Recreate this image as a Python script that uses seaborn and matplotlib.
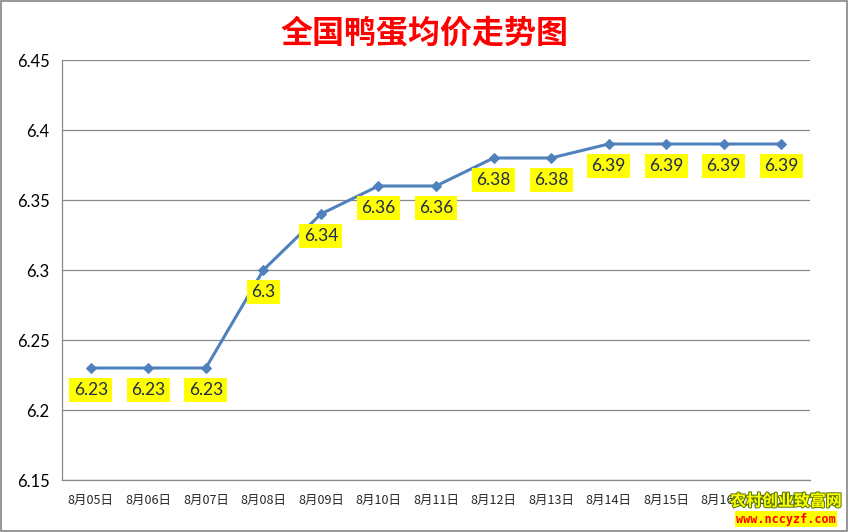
import matplotlib.pyplot as plt
import matplotlib.patheffects as pe
import numpy as np
import pandas as pd
import seaborn as sns
from matplotlib.patches import Rectangle

# data
dates = ['8月05日', '8月06日', '8月07日', '8月08日', '8月09日', '8月10日', '8月11日',
         '8月12日', '8月13日', '8月14日', '8月15日', '8月16日', '8月17日']
prices = [6.23, 6.23, 6.23, 6.30, 6.34, 6.36, 6.36, 6.38, 6.38, 6.39, 6.39, 6.39, 6.39]
price_labels = ['6.23', '6.23', '6.23', '6.3', '6.34', '6.36', '6.36',
                '6.38', '6.38', '6.39', '6.39', '6.39', '6.39']
y_ticks = [6.15, 6.2, 6.25, 6.3, 6.35, 6.4, 6.45]
y_tick_labels = ['6.15', '6.2', '6.25', '6.3', '6.35', '6.4', '6.45']

df = pd.DataFrame({'date': dates, 'price': prices})

sns.set_style('white')
plt.rcParams['font.family'] = ['Noto Sans CJK SC', 'DejaVu Sans']

fig = plt.figure(figsize=(8.49, 5.32), dpi=100)
ax = fig.add_axes([62 / 849, 52 / 532, 748 / 849, 420 / 532])

sns.lineplot(data=df, x='date', y='price', ax=ax, sort=False, color='#4F81BD',
             linewidth=2.2, marker='D', markersize=5, markeredgecolor='#4F81BD')

n = len(dates)
ax.set_xlim(-0.5, n - 0.5)
ax.set_ylim(6.15, 6.45)

# y axis
ax.set_yticks(y_ticks)
ax.set_yticklabels(y_tick_labels, fontsize=12, family=['Lato', 'DejaVu Sans'], color='#000000')
ax.grid(axis='y', color='#888888', linewidth=0.9)
ax.set_axisbelow(True)

# x axis: ticks between categories, labels at centers
ax.set_xticks(np.arange(-0.5, n, 1.0))
ax.set_xticklabels([])
ax.set_xticks(np.arange(n), minor=True)
ax.set_xticklabels(dates, minor=True, fontsize=9)
ax.tick_params(axis='x', which='major', length=5, color='#888888', direction='out')
ax.tick_params(axis='x', which='minor', length=0, pad=10)
ax.tick_params(axis='y', length=5, color='#888888', direction='out', pad=4)
ax.set_xlabel('')
ax.set_ylabel('')

for s in ['top', 'right']:
    ax.spines[s].set_visible(False)
for s in ['left', 'bottom']:
    ax.spines[s].set_color('#888888')
    ax.spines[s].set_linewidth(0.9)

# data labels
for i, (v, lab) in enumerate(zip(prices, price_labels)):
    ax.annotate(lab, xy=(i, v), xytext=(0, -22), textcoords='offset pixels',
                ha='center', va='center', fontsize=12.5, color='#1F2A50',
                family=['Lato', 'DejaVu Sans'],
                bbox=dict(boxstyle='square,pad=0.25', facecolor='#FFFF00', edgecolor='none'))

# title
fig.text(0.5, 1 - 33 / 532, '全国鸭蛋均价走势图', ha='center', va='center',
         fontsize=23, fontweight='bold', color='#FF0000')

# outer frame
fig.patches.append(Rectangle((0.001, 0.001), 0.997, 0.997, transform=fig.transFigure,
                             fill=False, edgecolor='#868686', linewidth=1.2))

# watermark
fig.text(786 / 849, 1 - 501 / 532, '农村创业致富网', ha='center', va='center',
         fontsize=11.5, fontweight='bold', color='#FFFF00',
         path_effects=[pe.withStroke(linewidth=1.5, foreground='#5A7A00')])
fig.text(786 / 849, 1 - 519 / 532, 'www.nccyzf.com', ha='center', va='center',
         fontsize=8.5, fontweight='bold', color='#FF0000', family='DejaVu Sans Mono',
         bbox=dict(boxstyle='square,pad=0.1', facecolor='#FFFF00', edgecolor='none'))

plt.savefig('out.png', dpi=100)
plt.close()
